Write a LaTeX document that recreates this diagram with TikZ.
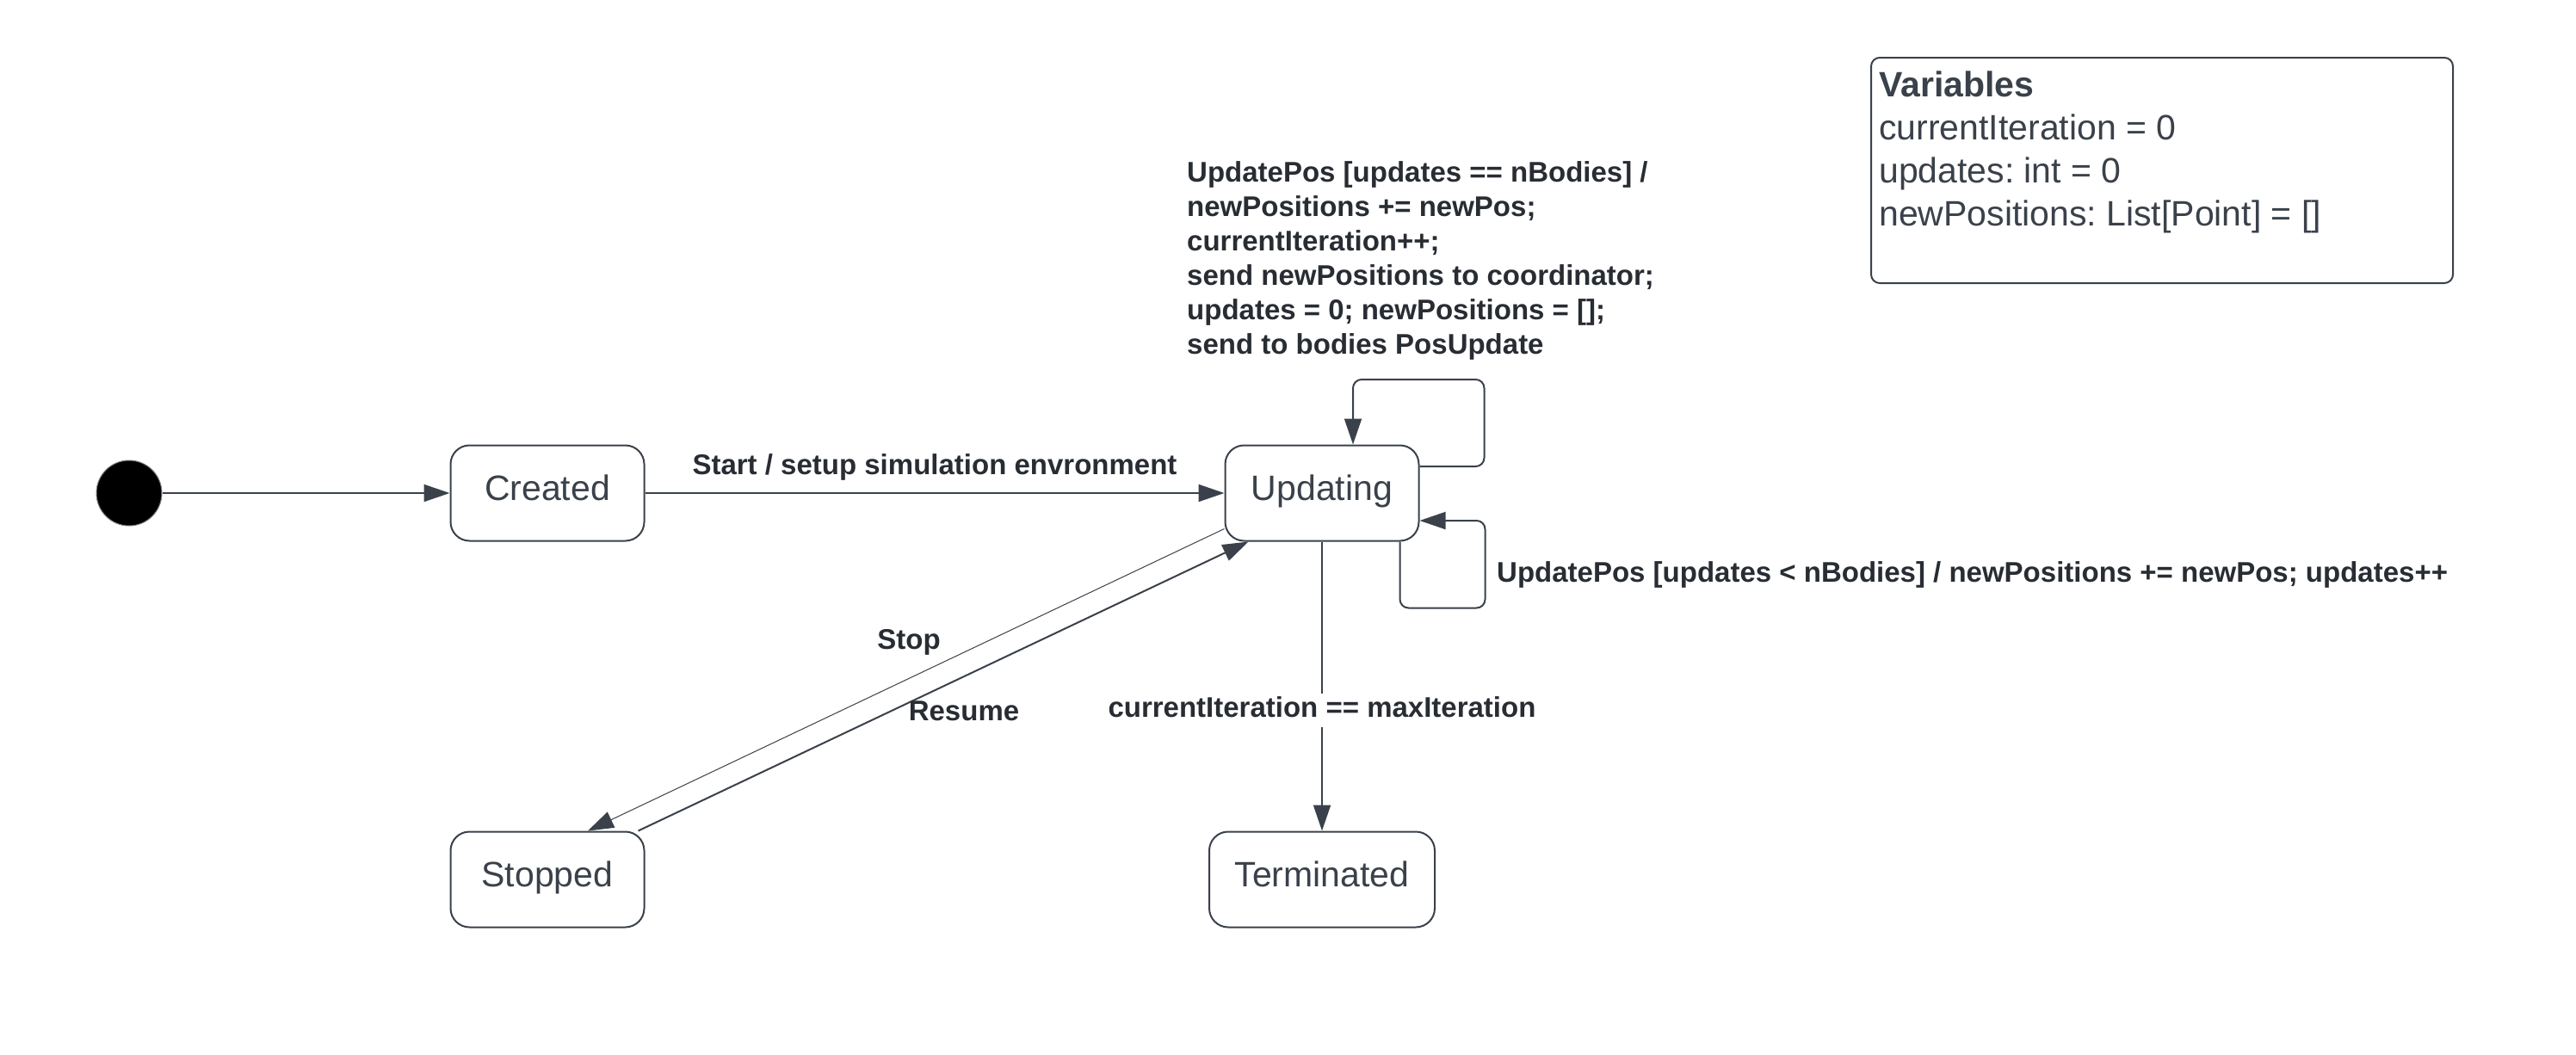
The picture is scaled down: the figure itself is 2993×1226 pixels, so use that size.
\documentclass[tikz,border=0pt]{standalone}
\usepackage{fontspec}
\setmainfont{Liberation Sans}
\usetikzlibrary{arrows.meta}
\definecolor{ink}{HTML}{3A414A}
\definecolor{txt}{HTML}{282C33}
\frenchspacing
\begin{document}
\begin{tikzpicture}[x=1pt,y=-1pt,
  state/.style={draw=ink, line width=2pt, rounded corners=22pt, minimum height=111pt,
    font=\fontsize{41}{49}\selectfont, text=ink, text height=29pt, text depth=12pt, inner sep=0pt},
  conn/.style={draw=ink, line width=2pt, -{Triangle[length=30pt,width=20pt]}},
  thinconn/.style={draw=ink, line width=1pt, -{Triangle[length=30pt,width=20pt]}},
  lbl/.style={font=\fontsize{33}{40}\selectfont\bfseries, text=txt, inner sep=0pt, text height=24pt, text depth=7pt},
  mlbl/.style={font=\fontsize{33}{40}\selectfont\bfseries, text=txt, inner sep=0pt, align=left},
  vartxt/.style={font=\fontsize{41}{50}\selectfont, text=ink, inner sep=0pt, align=left},
]
\useasboundingbox (0,0) rectangle (2993,1226);

% states
\node[circle, fill=black, draw=gray, line width=1pt, minimum size=76pt, inner sep=0pt] (init) at (150,573) {};
\node[state, minimum width=225pt] (created) at (636,573) {Created};
\node[state, minimum width=225pt] (updating) at (1536,573) {Updating};
\node[state, minimum width=225pt] (stopped) at (636,1022) {Stopped};
\node[state, minimum width=262pt] (term) at (1536,1022) {Terminated};

% variables box
\node[draw=ink, line width=2pt, rounded corners=10pt, minimum width=676pt, minimum height=262pt, inner sep=0pt] (vars) at (2512,198) {};
\node[vartxt, anchor=north west] (varstext) at ([xshift=10pt,yshift=-17pt]vars.north west)
  {\textbf{Variables}\\currentIteration = 0\\updates: int = 0\\newPositions: List[Point] = []};

% connectors
\draw[conn] (init) -- (created);
\draw[conn] (created) -- node[lbl, above=14pt] (lstart) {Start / setup simulation envronment} (updating);
\draw[conn, rounded corners=10pt] ([yshift=31pt]updating.east) -- ++(75,0) -- ++(0,-101) -| ([xshift=36pt]updating.north);
\draw[conn, rounded corners=10pt] ([xshift=-23pt]updating.south east) -- ++(0,77) -- ++(99,0) |- ([yshift=-32pt]updating.east);
\draw[conn] (updating) -- node[lbl, fill=white, inner ysep=4pt, pos=0.583] (lterm) {currentIteration == maxIteration} (term);
\draw[thinconn] ([yshift=15pt]updating.south west) -- ([xshift=47pt]stopped.north);
\draw[conn] ([xshift=-8pt]stopped.north east) -- ([xshift=28pt]updating.south west);

% labels
\node[mlbl, anchor=north west] (lloop1) at (1379,187)
  {UpdatePos [updates == nBodies] /\\newPositions += newPos;\\currentIteration++;\\send newPositions to coordinator;\\updates = 0; newPositions = [];\\send to bodies PosUpdate};
\node[lbl, anchor=west] (lloop2) at (1739,668) {UpdatePos [updates < nBodies] / newPositions += newPos; updates++};
\node[lbl] (lstop) at (1056,746) {Stop};
\node[lbl] (lresume) at (1120,829) {Resume};
\end{tikzpicture}
\end{document}
